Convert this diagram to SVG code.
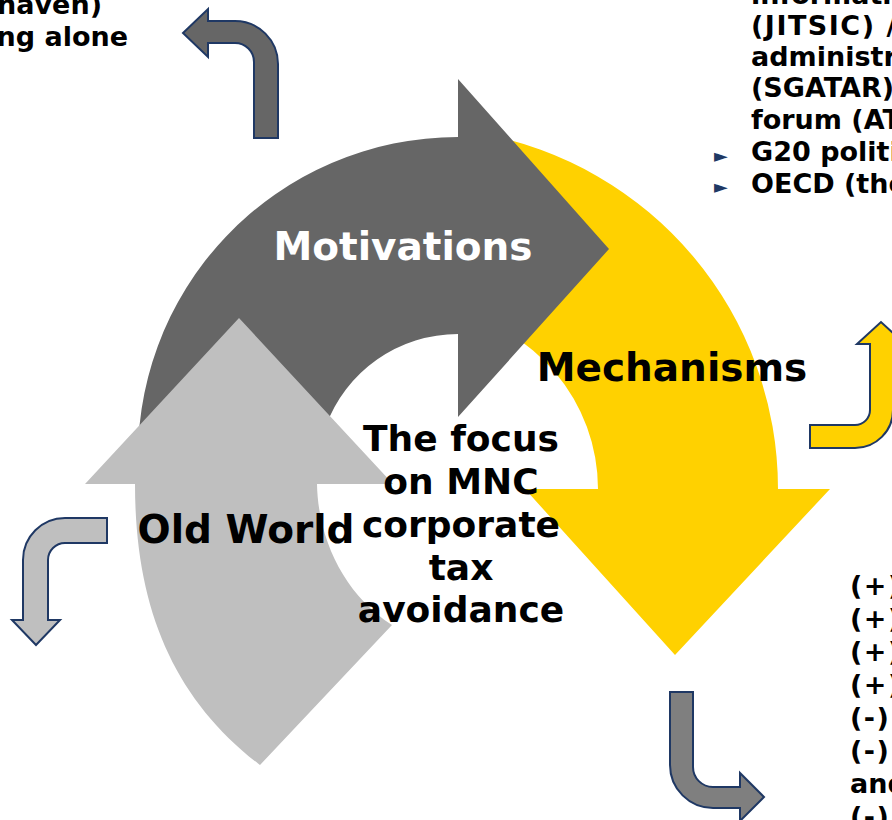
<svg xmlns="http://www.w3.org/2000/svg" width="892" height="820" viewBox="0 0 892 820">
  <style>
    .lbl { font-family: "DejaVu Sans", Verdana, sans-serif; font-weight: bold; }
    .big { font-size: 39px; }
    .mid { font-size: 36px; }
    .body { font-size: 27px; fill: #000; }
    .wide { letter-spacing: 1.5px; }
    .bent { stroke: #1F3864; stroke-width: 2; stroke-linejoin: miter; }
    .bullet { font-family: "DejaVu Sans", sans-serif; font-weight: normal; font-size: 18px; fill: #1F3864; }
  </style>

  <rect width="892" height="820" fill="#FFFFFF"/>

  <!-- Mechanisms: yellow circular arrow (drawn first, tail tucked under Motivations) -->
  <g id="mechanisms">
    <path d="M 480,133.5 A 361 361 0 0 1 778,489 L 830,489 L 675,655 L 525,489 L 598,489 A 181 181 0 0 0 448,311 Z" fill="#FFD100"/>
    <text class="lbl big" x="672" y="381" text-anchor="middle" fill="#000">Mechanisms</text>
  </g>

  <!-- Motivations: dark grey circular arrow -->
  <g id="motivations">
    <path d="M 138.4,473.7 A 320 320 0 0 1 458,137 L 458,79 L 609,249 L 458,417 L 458,334 A 141 141 0 0 0 325.5,427 Z" fill="#666666"/>
    <text class="lbl big" x="403" y="260" text-anchor="middle" fill="#FFFFFF">Motivations</text>
  </g>

  <!-- Old World: light grey circular arrow -->
  <g id="old-world">
    <path d="M 85,484 L 239,318 L 393,484 L 317,484 C 318,540 345,595 392,625 L 260,765 C 175,700 135,610 135,484 Z" fill="#BFBFBF"/>
    <text class="lbl big" x="246" y="543" text-anchor="middle" fill="#000">Old World</text>
  </g>

  <!-- centre label -->
  <g id="focus" class="lbl mid" fill="#000" text-anchor="middle">
    <text x="461" y="451">The focus</text>
    <text x="461" y="494">on MNC</text>
    <text x="461" y="537">corporate</text>
    <text x="461" y="580">tax</text>
    <text x="461" y="622">avoidance</text>
  </g>

  <!-- side text blocks -->
  <g id="note-top-left" class="lbl body" text-anchor="end">
    <text x="102" y="14">haven)</text>
    <text x="128" y="46">ng alone</text>
  </g>

  <g id="note-top-right" class="lbl body">
    <text x="751" y="4">information</text>
    <text class="wide" x="751" y="35">(JITSIC) /</text>
    <text x="751" y="66">administration</text>
    <text x="751" y="97">(SGATAR) /</text>
    <text x="751" y="129">forum (ATAF)</text>
    <text x="751" y="161">G20 political</text>
    <text x="751" y="193">OECD (the</text>
    <text class="bullet" x="714" y="162">►</text>
    <text class="bullet" x="714" y="193">►</text>
  </g>

  <g id="note-bottom-right" class="lbl body">
    <text class="wide" x="850" y="595">(+)</text>
    <text class="wide" x="850" y="628">(+)</text>
    <text class="wide" x="850" y="661">(+)</text>
    <text class="wide" x="850" y="694">(+)</text>
    <text class="wide" x="850" y="727">(-)</text>
    <text class="wide" x="850" y="760">(-)</text>
    <text x="850" y="793">and</text>
    <text class="wide" x="850" y="826">(-)</text>
  </g>

  <!-- bent pointer arrows leading out to the text blocks -->
  <g id="connectors" class="bent">
    <path d="M 254,138 L 254,62 A 19 19 0 0 0 235,43 L 208,43 L 208,57 L 183,33 L 208,9 L 208,21 L 235,21 A 43 43 0 0 1 278,64 L 278,138 Z" fill="#666666"/>
    <path d="M 810,425 L 855,425 A 15 15 0 0 0 870,410 L 870,344 L 857,344 L 881,322 L 905,344 L 893,344 L 893,410 A 38 38 0 0 1 855,448 L 810,448 Z" fill="#FFD100"/>
    <path d="M 107,518 L 107,543 L 65,543 A 17 17 0 0 0 48,560 L 48,620 L 60,620 L 36,645 L 12,620 L 23,620 L 23,560 A 42 42 0 0 1 65,518 Z" fill="#BFBFBF"/>
    <path d="M 670,692 L 693,692 L 693,767 A 20 20 0 0 0 713,787 L 740,787 L 740,773 L 764,797 L 740,821 L 740,808 L 713,808 A 43 43 0 0 1 670,765 Z" fill="#7F7F7F"/>
  </g>
</svg>
